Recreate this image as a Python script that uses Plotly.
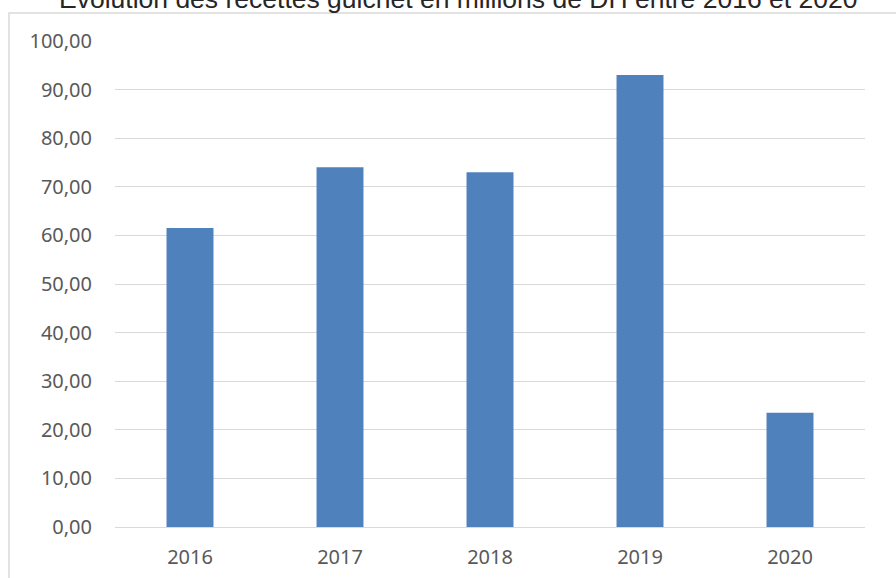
import plotly.graph_objects as go

years = ["2016", "2017", "2018", "2019", "2020"]
recettes = [61.5, 74.0, 73.0, 93.0, 23.5]
title_text = "Évolution des recettes guichet en millions de DH entre 2016 et 2020"

W, H = 896, 578
L, R, T, B = 115, 31, 41, 51
pw = W - L - R
ph = H - T - B

fig = go.Figure(go.Bar(x=years, y=recettes, marker=dict(color="#4f81bd", line=dict(width=0))))

fig.update_layout(
    width=W, height=H,
    margin=dict(l=L, r=R, t=T, b=B, autoexpand=False),
    paper_bgcolor="white", plot_bgcolor="white",
    separators=", ",
    bargap=0.687,
    showlegend=False,
    font=dict(family="Noto Sans", size=20, color="#595959"),
)
fig.add_annotation(text=title_text, xref="paper", yref="paper",
                   x=(458 - L) / pw, y=1 + (T + 1) / ph, xanchor="center", yanchor="middle",
                   showarrow=False,
                   font=dict(family="Liberation Sans", size=26.5, color="#262626"))
fig.update_yaxes(range=[0, 100], dtick=10, tickformat=".2f", showgrid=True,
                 gridcolor="#d9d9d9", gridwidth=1, zeroline=False, showline=False,
                 ticklabelstandoff=22, fixedrange=True, automargin=False)
fig.update_xaxes(showline=True, linecolor="#d9d9d9", linewidth=1, showgrid=False,
                 ticklabelstandoff=12, fixedrange=True, automargin=False)

# chart frame (extends past the right and bottom of the picture)
fig.add_shape(type="rect", xref="paper", yref="paper",
              x0=(9 - L) / pw, x1=(W + 40 - L) / pw,
              y0=-(B + 40) / ph, y1=1 + (T - 13) / ph,
              line=dict(color="#d9d9d9", width=1.5), fillcolor="rgba(0,0,0,0)", layer="below")

fig.write_html("out.html", config={"displayModeBar": False},
               post_script="document.body.style.margin='0';document.body.style.overflow='hidden';")
